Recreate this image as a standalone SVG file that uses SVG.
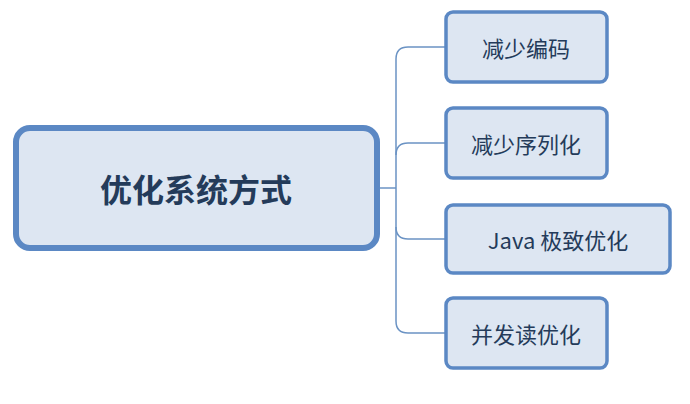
<svg xmlns="http://www.w3.org/2000/svg" width="690" height="404" viewBox="0 0 690 404">
<style>
.n rect{fill:#dde6f2;stroke:#5b88c4}
.s rect{stroke-width:3.5}
text{font-family:"Noto Sans CJK SC","Noto Sans",sans-serif;fill:#243b5a;dominant-baseline:central;text-anchor:middle}
.c path{fill:none;stroke:#6b93c4;stroke-width:1.5}
</style>
<rect width="690" height="404" fill="#fff"/>
<g class="c">
<path d="M378 188H396"/>
<path d="M446 47H408Q396 47 396 59V321Q396 333 408 333H446"/>
<path d="M396 155Q396 143 408 143H446"/>
<path d="M396 227Q396 239 408 239H446"/>
</g>
<g id="main" class="n"><rect x="16" y="128" width="361" height="120" rx="14" stroke-width="6"/><text x="196" y="188" font-size="32" font-weight="bold">优化系统方式</text></g>
<g id="n1" class="n s"><rect x="446" y="12" width="161" height="70" rx="7"/><text x="526" y="47" font-size="22">减少编码</text></g>
<g id="n2" class="n s"><rect x="446" y="108" width="161" height="70" rx="7"/><text x="526" y="143" font-size="22">减少序列化</text></g>
<g id="n3" class="n s"><rect x="446" y="205" width="224" height="68" rx="7"/><text x="558" y="239" font-size="22">Java 极致优化</text></g>
<g id="n4" class="n s"><rect x="446" y="298" width="161" height="70" rx="7"/><text x="526" y="333" font-size="22">并发读优化</text></g>
</svg>
